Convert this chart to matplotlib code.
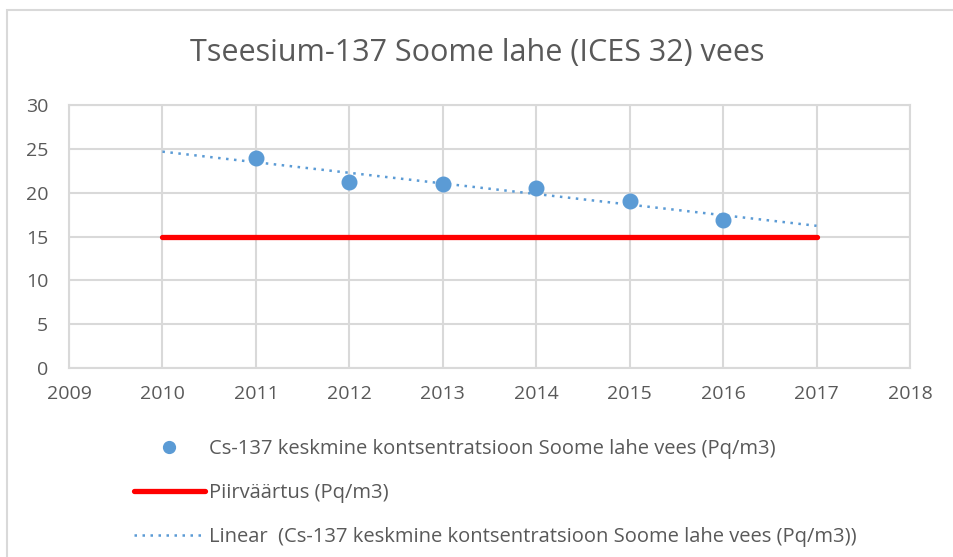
import matplotlib.pyplot as plt
from matplotlib.patches import Rectangle
from matplotlib.lines import Line2D
import numpy as np

# andmed
aastad = [2011, 2012, 2013, 2014, 2015, 2016]
cs137 = [24.0, 21.2, 21.0, 20.5, 19.1, 16.9]
piir_aastad = [2010, 2017]
piirvaartus = [15, 15]
trend_aastad = [2010, 2017]

sinine = '#5b9bd5'
hall = '#d9d9d9'
tekst = '#595959'

plt.rcParams['font.family'] = ['Open Sans', 'DejaVu Sans']

fig = plt.figure(figsize=(9.54, 5.57), dpi=100)
ax = fig.add_axes([69/954, 1 - 368/557, (910 - 69)/954, (368 - 105)/557])

# raam ümber diagrammi
fig.patches.append(Rectangle((7/954, -0.05), 1.2, 1 - 10/557 + 0.05, transform=fig.transFigure,
                             fill=False, edgecolor=hall, linewidth=1.5))

# lineaarne trend
k, b = np.polyfit(aastad, cs137, 1)
trend = [k * x + b for x in trend_aastad]

ax.plot(piir_aastad, piirvaartus, color='#ff0000', linewidth=3.8, solid_capstyle='round', zorder=3)
ax.plot(trend_aastad, trend, color=sinine, linewidth=1.8, linestyle=(0, (1, 2.2)), zorder=4)
ax.plot(aastad, cs137, 'o', color=sinine, markersize=10.5, zorder=5)

ax.set_xlim(2009, 2018)
ax.set_ylim(0, 30)
ax.set_xticks(range(2009, 2019))
ax.set_yticks(range(0, 31, 5))
ax.grid(True, color=hall, linewidth=1.5)
ax.set_axisbelow(True)
for s in ax.spines.values():
    s.set_color(hall)
    s.set_linewidth(1.5)
ax.tick_params(length=0, labelsize=14, colors=tekst)
ax.tick_params(axis='x', pad=12)
ax.tick_params(axis='y', pad=15)

fig.text(0.5, 1 - 53/557, 'Tseesium-137 Soome lahe (ICES 32) vees', ha='center', va='center',
         fontsize=22, color=tekst)

kasitsused = [
    Line2D([], [], marker='o', color=sinine, linestyle='none', markersize=8.5),
    Line2D([], [], color='#ff0000', linewidth=3.8, solid_capstyle='round'),
    Line2D([], [], color=sinine, linewidth=1.8, linestyle=(0, (1, 2.2))),
]
sildid = [
    'Cs-137 keskmine kontsentratsioon Soome lahe vees (Pq/m3)',
    'Piirväärtus (Pq/m3)',
    'Linear  (Cs-137 keskmine kontsentratsioon Soome lahe vees (Pq/m3))',
]
leg = fig.legend(kasitsused, sildid, loc='upper left', bbox_to_anchor=(116/954, 1 - 421/557),
                 frameon=False, fontsize=14.5, labelcolor=tekst, handlelength=3.5,
                 handletextpad=0.2, labelspacing=1.2)

fig.savefig('out.png', dpi=100)
